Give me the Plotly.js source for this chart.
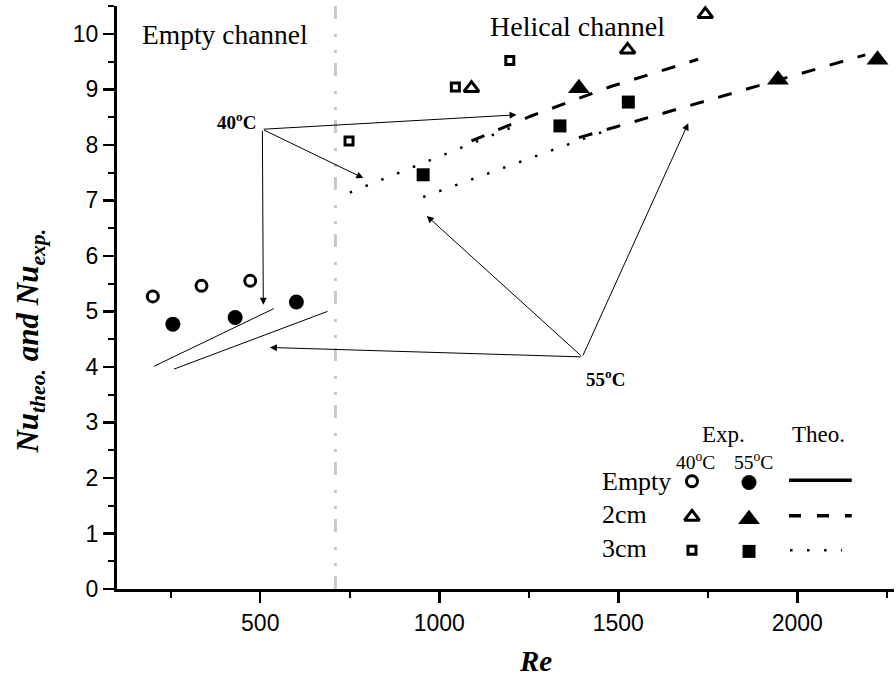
<!DOCTYPE html>
<html>
<head>
<meta charset="utf-8">
<script src="https://cdn.plot.ly/plotly-3.0.1.min.js"></script>
<style>
  html, body { margin: 0; padding: 0; background: #fff; }
  #chart { width: 896px; height: 681px; }
</style>
</head>
<body>
<div id="chart"></div>
<script>
// ---- Experimental Nusselt numbers vs Reynolds number ----
const emptyRe40 = [200, 336, 472];
const emptyNu40 = [5.27, 5.46, 5.55];
const emptyRe55 = [256, 430, 601];
const emptyNu55 = [4.77, 4.89, 5.17];

const cm2Re40 = [1090, 1526, 1743];
const cm2Nu40 = [9.02, 9.71, 10.35];
const cm2Re55 = [1390, 1946, 2224];
const cm2Nu55 = [9.02, 9.17, 9.53];

const cm3Re40 = [748, 1045, 1197];
const cm3Nu40 = [8.07, 9.04, 9.52];
const cm3Re55 = [955, 1337, 1528];
const cm3Nu55 = [7.46, 8.34, 8.77];

// ---- Theoretical correlations ----
const thEmptyRe40 = [203, 538];
const thEmptyNu40 = [4.01, 5.05];
const thEmptyRe55 = [259, 688];
const thEmptyNu55 = [3.96, 5.00];

const th2Re40 = [1090, 1253, 1479, 1723];
const th2Nu40 = [8.07, 8.51, 9.05, 9.54];
const th2Re55 = [1390, 2190];
const th2Nu55 = [8.13, 9.62];

const th3Re40 = [750, 1197];
const th3Nu40 = [7.14, 8.30];
const th3Re55 = [955, 1528];
const th3Nu55 = [7.06, 8.40];

// boundary between the empty and helical channel regimes
const boundaryRe = [710, 710];
const boundaryNu = [0, 10.5];

// ---- Legend grid labels ----
const legendRows = ['Empty', '2cm', '3cm'];
const legendCols = ['40<sup>o</sup>C', '55<sup>o</sup>C'];
const legendHeads = ['Exp.', 'Theo.'];

const SERIF = 'Liberation Serif, Times New Roman, serif';
const SANS = 'Liberation Sans, Arial, sans-serif';
const BLACK = '#000';

const DASH = '14px,15px';
const DOT = '2.5px,14.5px';

// marker styles: [symbol, size, open]
const M_OPEN_CIRCLE = ['circle', 11, true];
const M_CIRCLE = ['circle', 15, false];
const M_OPEN_TRI = ['triangle-up', 13, true];
const M_TRI = ['triangle-up', 19, false];
const M_OPEN_SQ = ['square', 8, true];
const M_SQ = ['square', 13, false];

function markerTrace(x, y, style, axes) {
  const t = {
    x: x, y: y, type: 'scatter', mode: 'markers', cliponaxis: false,
    hoverinfo: 'skip', showlegend: false,
    marker: {
      symbol: style[2] ? style[0] + '-open' : style[0],
      size: style[1], color: BLACK,
      line: { color: BLACK, width: style[2] ? 3 : 0 }
    }
  };
  if (axes) { t.xaxis = axes[0]; t.yaxis = axes[1]; }
  return t;
}
function lineTrace(x, y, width, dash, axes) {
  const t = {
    x: x, y: y, type: 'scatter', mode: 'lines', hoverinfo: 'skip', showlegend: false,
    line: { color: BLACK, width: width, dash: dash }
  };
  if (axes) { t.xaxis = axes[0]; t.yaxis = axes[1]; }
  return t;
}

const traces = [
  // channel boundary
  { x: boundaryRe, y: boundaryNu, type: 'scatter', mode: 'lines', hoverinfo: 'skip', showlegend: false,
    line: { color: '#c8c8c8', width: 3, dash: '13px,10px,3px,13px,3px,15px' } },
  // theoretical lines
  lineTrace(thEmptyRe40, thEmptyNu40, 1, 'solid'),
  lineTrace(thEmptyRe55, thEmptyNu55, 1, 'solid'),
  lineTrace(th2Re40, th2Nu40, 3, DASH),
  lineTrace(th2Re55, th2Nu55, 3, DASH),
  lineTrace(th3Re40, th3Nu40, 2.5, DOT),
  lineTrace(th3Re55, th3Nu55, 2.5, DOT),
  // experimental points
  markerTrace(emptyRe40, emptyNu40, M_OPEN_CIRCLE),
  markerTrace(emptyRe55, emptyNu55, M_CIRCLE),
  markerTrace(cm2Re40, cm2Nu40, M_OPEN_TRI),
  markerTrace(cm2Re55, cm2Nu55, M_TRI),
  markerTrace(cm3Re40, cm3Nu40, M_OPEN_SQ),
  markerTrace(cm3Re55, cm3Nu55, M_SQ)
];

// Legend samples, drawn on a unit-box overlay axis pair (x3/y3)
const LG = ['x3', 'y3'];
const lgCol = [0.7400, 0.8134];
const lgRow = [0.1847, 0.1277, 0.0665];
const lgLine = [0.8649, 0.9456];
traces.push(
  markerTrace([lgCol[0]], [lgRow[0]], M_OPEN_CIRCLE, LG),
  markerTrace([lgCol[1]], [lgRow[0] - 0.002], M_CIRCLE, LG),
  markerTrace([lgCol[0]], [lgRow[1] - 0.004], M_OPEN_TRI, LG),
  markerTrace([lgCol[1]], [lgRow[1] - 0.008], M_TRI, LG),
  markerTrace([lgCol[0]], [lgRow[2]], M_OPEN_SQ, LG),
  markerTrace([lgCol[1]], [lgRow[2] - 0.002], M_SQ, LG),
  lineTrace(lgLine, [lgRow[0] + 0.002, lgRow[0] + 0.002], 3.5, 'solid', LG),
  lineTrace(lgLine, [lgRow[1] - 0.002, lgRow[1] - 0.002], 3.5, '12px,16px', LG),
  lineTrace([0.8662, 0.9330], [lgRow[2], lgRow[2]], 2.5, DOT, LG)
);

// arrow from a temperature label (tail) to a curve (head)
function arrow(tail, head) {
  return { x: head[0], y: head[1], ax: tail[0], ay: tail[1], xref: 'x', yref: 'y', axref: 'x', ayref: 'y',
           text: '', showarrow: true, arrowhead: 2, arrowsize: 1.4, arrowwidth: 1,
           arrowcolor: BLACK, standoff: 0, startstandoff: 0 };
}
function label(text, x, y, size, opts) {
  return Object.assign({ text: text, x: x, y: y, xref: 'paper', yref: 'paper', showarrow: false,
           xanchor: 'center', yanchor: 'middle', font: { family: SERIF, size: size, color: BLACK } }, opts || {});
}

const tail40 = [506, 8.28];
const tail55 = [1399.5, 4.18];

const annotations = [
  arrow(tail40, [1216, 8.54]),
  arrow(tail40, [788, 7.40]),
  arrow(tail40, [508.6, 5.12]),
  arrow(tail55, [527, 4.35]),
  arrow(tail55, [965, 6.72]),
  arrow(tail55, [1695.5, 8.39]),
  { text: '<b>40<sup>o</sup>C</b>', x: 435, y: 8.42, xref: 'x', yref: 'y', showarrow: false,
    font: { family: SERIF, size: 19, color: BLACK } },
  { text: '<b>55<sup>o</sup>C</b>', x: 1463, y: 3.80, xref: 'x', yref: 'y', showarrow: false,
    font: { family: SERIF, size: 19, color: BLACK } },
  // regime labels
  label('Empty channel', 0.139, 0.951, 27.5),
  label('Helical channel', 0.5927, 0.964, 28),
  // legend grid labels
  label(legendHeads[0], 0.7803, 0.2648, 23),
  label(legendHeads[1], 0.9026, 0.2648, 23),
  label(legendCols[0], 0.7439, 0.2190, 19.5),
  label(legendCols[1], 0.8198, 0.2190, 19.5),
  label(legendRows[0], 0.6216, 0.1842, 26, { xanchor: 'left' }),
  label(legendRows[1], 0.6216, 0.1285, 26, { xanchor: 'left' }),
  label(legendRows[2], 0.6216, 0.0703, 26, { xanchor: 'left' }),
  // axis titles
  label('<b><i>Re</i></b>', 0.538, -0.123, 29),
  label('<b><i>Nu<sub>theo.</sub> and Nu<sub>exp.</sub></i></b>', -0.112, 0.426, 31,
        { textangle: -90 })
];

const X_RANGE = [100, 2270];
const Y_RANGE = [0, 10.5];

const layout = {
  width: 896, height: 681,
  margin: { l: 117, r: 2, t: 6, b: 91.5, pad: 0 },
  paper_bgcolor: '#fff', plot_bgcolor: '#fff',
  showlegend: false,
  xaxis: {
    range: X_RANGE, showgrid: false, zeroline: false,
    showline: true, linecolor: BLACK, linewidth: 3,
    ticks: 'outside', ticklen: 11, tickwidth: 2.5, tickcolor: BLACK,
    tick0: 0, dtick: 500,
    minor: { dtick: 250, ticks: 'outside', ticklen: 6, tickwidth: 2, tickcolor: BLACK, showgrid: false },
    tickfont: { family: SANS, size: 23, color: BLACK }
  },
  yaxis: {
    range: Y_RANGE, showgrid: false, zeroline: false,
    showline: true, linecolor: BLACK, linewidth: 3,
    ticks: 'outside', ticklen: 11, tickwidth: 2.5, tickcolor: BLACK,
    tick0: 0, dtick: 1,
    minor: { dtick: 0.5, ticks: 'outside', ticklen: 6, tickwidth: 2, tickcolor: BLACK, showgrid: false },
    tickfont: { family: SANS, size: 23, color: BLACK }
  },
  // thin frame on the top and right
  xaxis2: {
    range: X_RANGE, overlaying: 'x', anchor: 'y', side: 'top',
    showline: true, linecolor: BLACK, linewidth: 1.5,
    ticks: 'outside', ticklen: 4, tickwidth: 1.5, tickcolor: BLACK, tick0: 0, dtick: 250,
    showticklabels: false, showgrid: false, zeroline: false
  },
  yaxis2: {
    range: Y_RANGE, overlaying: 'y', anchor: 'x', side: 'right',
    showline: true, linecolor: BLACK, linewidth: 1.5,
    ticks: '', showticklabels: false, showgrid: false, zeroline: false
  },
  // unit box for legend samples
  xaxis3: { range: [0, 1], overlaying: 'x', anchor: 'y3', visible: false, domain: [0, 1] },
  yaxis3: { range: [0, 1], overlaying: 'y', anchor: 'x3', visible: false, domain: [0, 1] },
  annotations: annotations
};

Plotly.newPlot('chart', traces, layout, { displayModeBar: false, staticPlot: true });
</script>
</body>
</html>
